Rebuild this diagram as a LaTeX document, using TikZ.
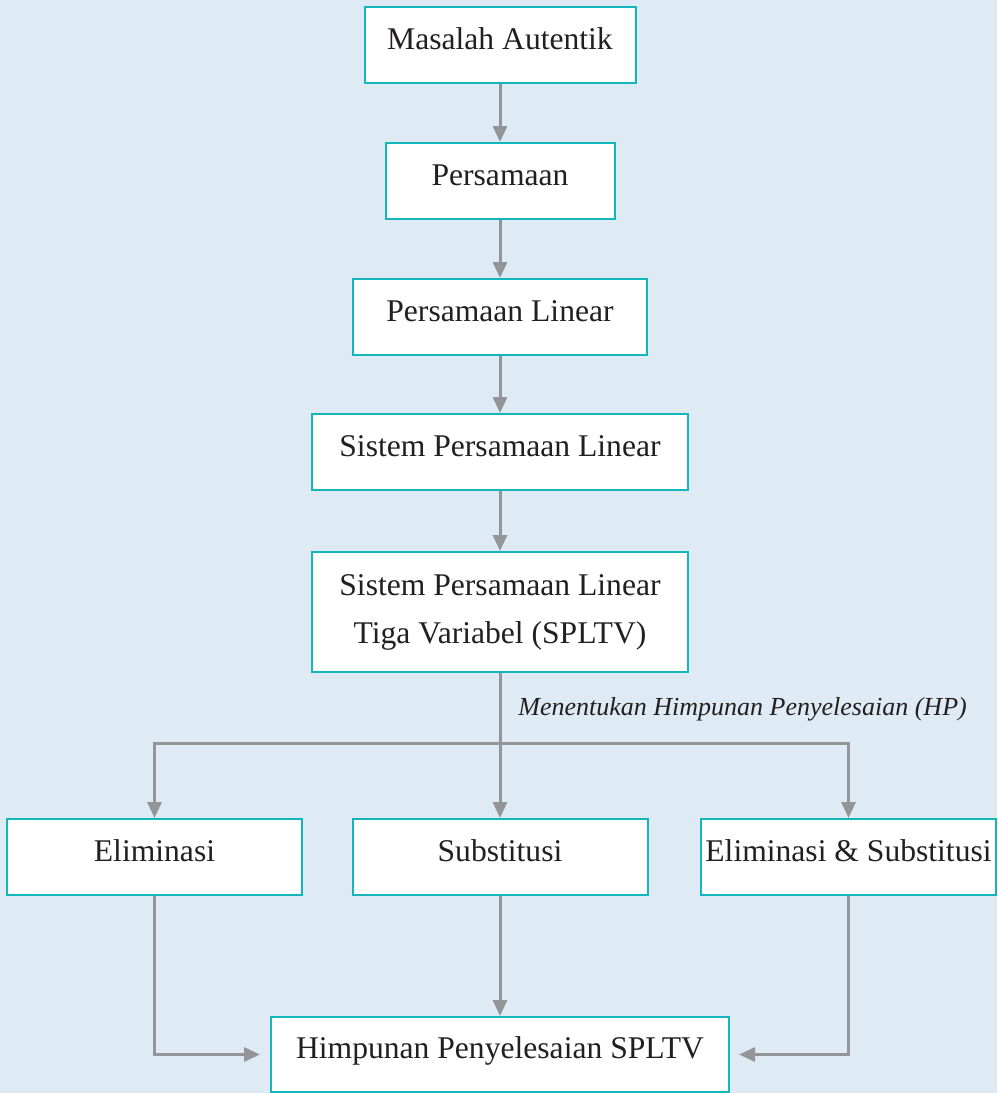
\documentclass[tikz,border=0pt]{standalone}
\usepackage{fontspec}
\setmainfont{Liberation Serif}
\usetikzlibrary{arrows.meta,positioning}
\definecolor{hgblau}{HTML}{DEEBF4}
\definecolor{kastenrand}{HTML}{14B6BE}
\definecolor{pfeilgrau}{HTML}{939598}
\definecolor{schrift}{HTML}{231F20}

\begin{document}
\begin{tikzpicture}[x=0.5pt,y=-0.5pt,
  kasten/.style={draw=kastenrand, line width=1pt, fill=white, text=schrift, inner sep=0pt,
    minimum height=38pt, text height=10pt, text depth=6pt, font=\fontsize{15.8}{24}\selectfont},
  pfeil/.style={draw=pfeilgrau, line width=1.5pt, -{Triangle[length=8pt,width=7pt]}},
  linie/.style={draw=pfeilgrau, line width=1.5pt}]


% Hintergrund
\fill[hgblau] (0,0) rectangle (997,1093);
\useasboundingbox (0,0) rectangle (997,1093);

% Kaesten
\node[kasten, minimum width=135.5pt] (masalah) at (500,45) {Masalah Autentik};
\node[kasten, minimum width=114.5pt] (pers) at (500,181) {Persamaan};
\node[kasten, minimum width=147pt] (perslin) at (500,317) {Persamaan Linear};
\node[kasten, minimum width=188pt] (spl) at (500,452) {Sistem Persamaan Linear};
\node[kasten, minimum width=188pt, minimum height=60pt, text height={}, text depth={}, align=center] (spltv) at (500,612) {\raisebox{1.5pt}{Sistem Persamaan Linear}\\\raisebox{1.5pt}{Tiga Variabel (SPLTV)}};

\node[kasten, minimum width=147.5pt] (elim) at (154.5,857) {Eliminasi};
\node[kasten, minimum width=147.5pt] (subs) at (500,857) {Substitusi};
\node[kasten, minimum width=147.5pt] (elimsubs) at (848.5,857) {Eliminasi \& Substitusi};

\node[kasten, minimum width=229pt, minimum height=37.5pt] (hp) at (500,1054.5) {Himpunan Penyelesaian SPLTV};

% Beschriftung
\node[anchor=base west, inner sep=0pt, text=schrift, font=\fontsize{13}{16}\selectfont\itshape] (hplabel) at (518,715) {Menentukan Himpunan Penyelesaian (HP)};

% Pfeile
\draw[pfeil] (masalah) -- (pers);
\draw[pfeil] (pers) -- (perslin);
\draw[pfeil] (perslin) -- (spl);
\draw[pfeil] (spl) -- (spltv);

% Verzweigung
\coordinate (verzweig) at (500,743);
\draw[linie] (spltv) -- (verzweig);
\draw[pfeil] (verzweig) -- (subs);
\draw[pfeil] (verzweig) -| (elim);
\draw[pfeil] (verzweig) -| (elimsubs);

% Zusammenfuehrung
\draw[pfeil] (subs) -- (hp);
\draw[pfeil, shorten >=5pt] (elim) |- (hp);
\draw[pfeil, shorten >=4.5pt] (elimsubs) |- (hp);


\end{tikzpicture}
\end{document}
